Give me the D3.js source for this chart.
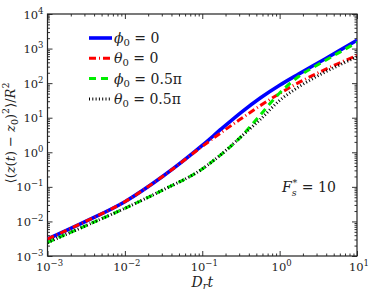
<!DOCTYPE html>
<html>
<head>
<meta charset="utf-8">
<script src="https://cdn.jsdelivr.net/npm/d3@7"></script>
<style>
  body { margin: 0; background: #fff; }
  svg { display: block; }
</style>
</head>
<body>
<div id="chart"></div>
<script>
// time grid (D_r t) shared by all series
const times = [0.001, 0.00316, 0.01, 0.0316, 0.1, 0.178, 0.316, 0.562, 1, 1.78, 3.16, 5.62, 10];

// mean squared displacement / R^2
const phi0Zero    = [0.0031, 0.0102, 0.0372, 0.209, 1.58, 4.8, 14.1, 37.2, 87, 186, 389, 813, 1740];
const theta0Zero  = [0.0031, 0.0102, 0.0372, 0.209, 1.48, 3.8, 9.3, 22.4, 50, 105, 200, 363, 630];
const phi0Half    = [0.00245, 0.0076, 0.024, 0.083, 0.33, 0.89, 2.8, 12, 52, 158, 347, 724, 1514];
const theta0Half  = [0.00245, 0.0076, 0.024, 0.083, 0.33, 0.89, 2.8, 8.9, 31.6, 79, 166, 316, 575];

const xTickVals = [1e-3, 1e-2, 1e-1, 1e0, 1e1];
const xTickExp = ["\u22123", "\u22122", "\u22121", "0", "1"];
const yTickVals = [1e-3, 1e-2, 1e-1, 1e0, 1e1, 1e2, 1e3, 1e4];
const yTickExp = ["\u22123", "\u22122", "\u22121", "0", "1", "2", "3", "4"];

const series = [
    { name: "phi", sub: "0", val: "0", data: phi0Zero, color: "#0000ff", width: 3.6, dash: null },
    { name: "theta", sub: "0", val: "0", data: theta0Zero, color: "#ff0000", width: 3, dash: "7,3,1,3" },
    { name: "phi", sub: "0", val: "0.5\u03c0", data: phi0Half, color: "#00ee00", width: 3, dash: "7,5" },
    { name: "theta", sub: "0", val: "0.5\u03c0", data: theta0Half, color: "#000000", width: 3, dash: "1,2.3" }
];

const width = 374, height = 291;
const m = { left: 47.5, right: 17, top: 14, bottom: 35 };
const serif = "'DejaVu Serif', serif";

const svg = d3.select("#chart").append("svg")
    .attr("width", width)
    .attr("height", height)
    .attr("font-family", serif);

const x = d3.scaleLog().domain([1e-3, 10]).range([m.left, width - m.right]);
const y = d3.scaleLog().domain([1e-3, 1e4]).range([height - m.bottom, m.top]);

// minor ticks 2..9 in each decade
let xMinor = [], yMinor = [];
for (let e = -3; e < 1; e++) for (let k = 2; k < 10; k++) xMinor.push(k * Math.pow(10, e));
for (let e = -3; e < 4; e++) for (let k = 2; k < 10; k++) yMinor.push(k * Math.pow(10, e));

const bottomY = height - m.bottom, rightX = width - m.right;

function drawAxis(axisFn, scale, vals, size, tx, ty) {
    const g = svg.append("g")
        .attr("transform", `translate(${tx},${ty})`)
        .call(axisFn(scale).tickValues(vals).tickSize(size).tickSizeOuter(0).tickFormat(""));
    g.select(".domain").remove();
    g.selectAll("line").attr("stroke", "#333");
    return g;
}

drawAxis(d3.axisBottom, x, xMinor, -2.5, 0, bottomY);
drawAxis(d3.axisBottom, x, xTickVals, -5, 0, bottomY);
drawAxis(d3.axisTop, x, xMinor, -2.5, 0, m.top);
drawAxis(d3.axisTop, x, xTickVals, -5, 0, m.top);
drawAxis(d3.axisLeft, y, yMinor, -2.5, m.left, 0);
drawAxis(d3.axisLeft, y, yTickVals, -5, m.left, 0);
drawAxis(d3.axisRight, y, yMinor, -2.5, rightX, 0);
drawAxis(d3.axisRight, y, yTickVals, -5, rightX, 0);

// frame
svg.append("rect")
    .attr("x", m.left).attr("y", m.top)
    .attr("width", rightX - m.left).attr("height", bottomY - m.top)
    .attr("fill", "none").attr("stroke", "#222").attr("stroke-width", 1.2);

// tick labels with superscript exponents
function powLabel(sel, exp) {
    sel.append("tspan").text("10");
    sel.append("tspan").attr("dy", -5).attr("font-size", 8.5).text(exp);
}

xTickVals.forEach((v, i) => {
    const t = svg.append("text")
        .attr("x", x(v) + 2)
        .attr("y", bottomY + 15)
        .attr("text-anchor", "middle")
        .attr("font-size", 11.5)
        .attr("fill", "#222");
    powLabel(t, xTickExp[i]);
});

yTickVals.forEach((v, i) => {
    const t = svg.append("text")
        .attr("x", m.left - 4)
        .attr("y", y(v) + 4.5)
        .attr("text-anchor", "end")
        .attr("font-size", 11.5)
        .attr("fill", "#222");
    powLabel(t, yTickExp[i]);
});

// curves
const line = d3.line()
    .x((d, i) => x(times[i]))
    .y(d => y(d))
    .curve(d3.curveMonotoneX);

svg.append("clipPath").attr("id", "clip")
    .append("rect")
    .attr("x", m.left).attr("y", m.top)
    .attr("width", rightX - m.left).attr("height", bottomY - m.top);

series.forEach(s => {
    svg.append("path")
        .datum(s.data)
        .attr("clip-path", "url(#clip)")
        .attr("d", line)
        .attr("fill", "none")
        .attr("stroke", s.color)
        .attr("stroke-width", s.width)
        .attr("stroke-dasharray", s.dash);
});

// legend
const greek = { phi: "\u03d5", theta: "\u03b8" };
series.forEach((s, i) => {
    const ly = 38 + i * 20.3;
    svg.append("line")
        .attr("x1", 89).attr("x2", 112)
        .attr("y1", ly).attr("y2", ly)
        .attr("stroke", s.color)
        .attr("stroke-width", s.width)
        .attr("stroke-dasharray", s.dash);
    const t = svg.append("text")
        .attr("x", 114)
        .attr("y", ly + 5)
        .attr("font-size", 14)
        .attr("fill", "#222");
    t.append("tspan").attr("font-style", "italic").text(greek[s.name]);
    t.append("tspan").attr("dy", 3).attr("font-size", 10).text(s.sub);
    t.append("tspan").attr("dy", -3).text(" = " + s.val);
});

// annotation
const ann = svg.append("text")
    .attr("x", 282)
    .attr("y", 192)
    .attr("font-size", 14)
    .attr("fill", "#222");
ann.append("tspan").attr("font-style", "italic").text("F");
ann.append("tspan").attr("dy", 4).attr("font-size", 9.5).attr("font-style", "italic").text("s");
ann.append("tspan").attr("dy", -10).attr("dx", -4).attr("font-size", 9.5).text("*");
ann.append("tspan").attr("dy", 6).text(" = 10");

// x label
const xl = svg.append("text")
    .attr("x", (m.left + rightX) / 2)
    .attr("y", 287)
    .attr("text-anchor", "middle")
    .attr("font-size", 14)
    .attr("fill", "#222");
xl.append("tspan").attr("font-style", "italic").text("D");
xl.append("tspan").attr("dy", 2).attr("font-size", 10).attr("font-style", "italic").text("r");
xl.append("tspan").attr("dy", -2).attr("font-style", "italic").text("t");

// y label
const yl = svg.append("text")
    .attr("transform", `translate(15, ${(m.top + bottomY) / 2 - 2}) rotate(-90)`)
    .attr("text-anchor", "middle")
    .attr("font-size", 13)
    .attr("fill", "#222");
yl.append("tspan").text("\u27e8(");
yl.append("tspan").attr("font-style", "italic").text("z");
yl.append("tspan").text("(");
yl.append("tspan").attr("font-style", "italic").text("t");
yl.append("tspan").text(") \u2212 ");
yl.append("tspan").attr("font-style", "italic").text("z");
yl.append("tspan").attr("dy", 3).attr("font-size", 9.5).text("0");
yl.append("tspan").attr("dy", -3).text(")");
yl.append("tspan").attr("dy", -6).attr("font-size", 9.5).text("2");
yl.append("tspan").attr("dy", 6).text("\u27e9/");
yl.append("tspan").attr("font-style", "italic").text("R");
yl.append("tspan").attr("dy", -6).attr("font-size", 9.5).text("2");
</script>
</body>
</html>
